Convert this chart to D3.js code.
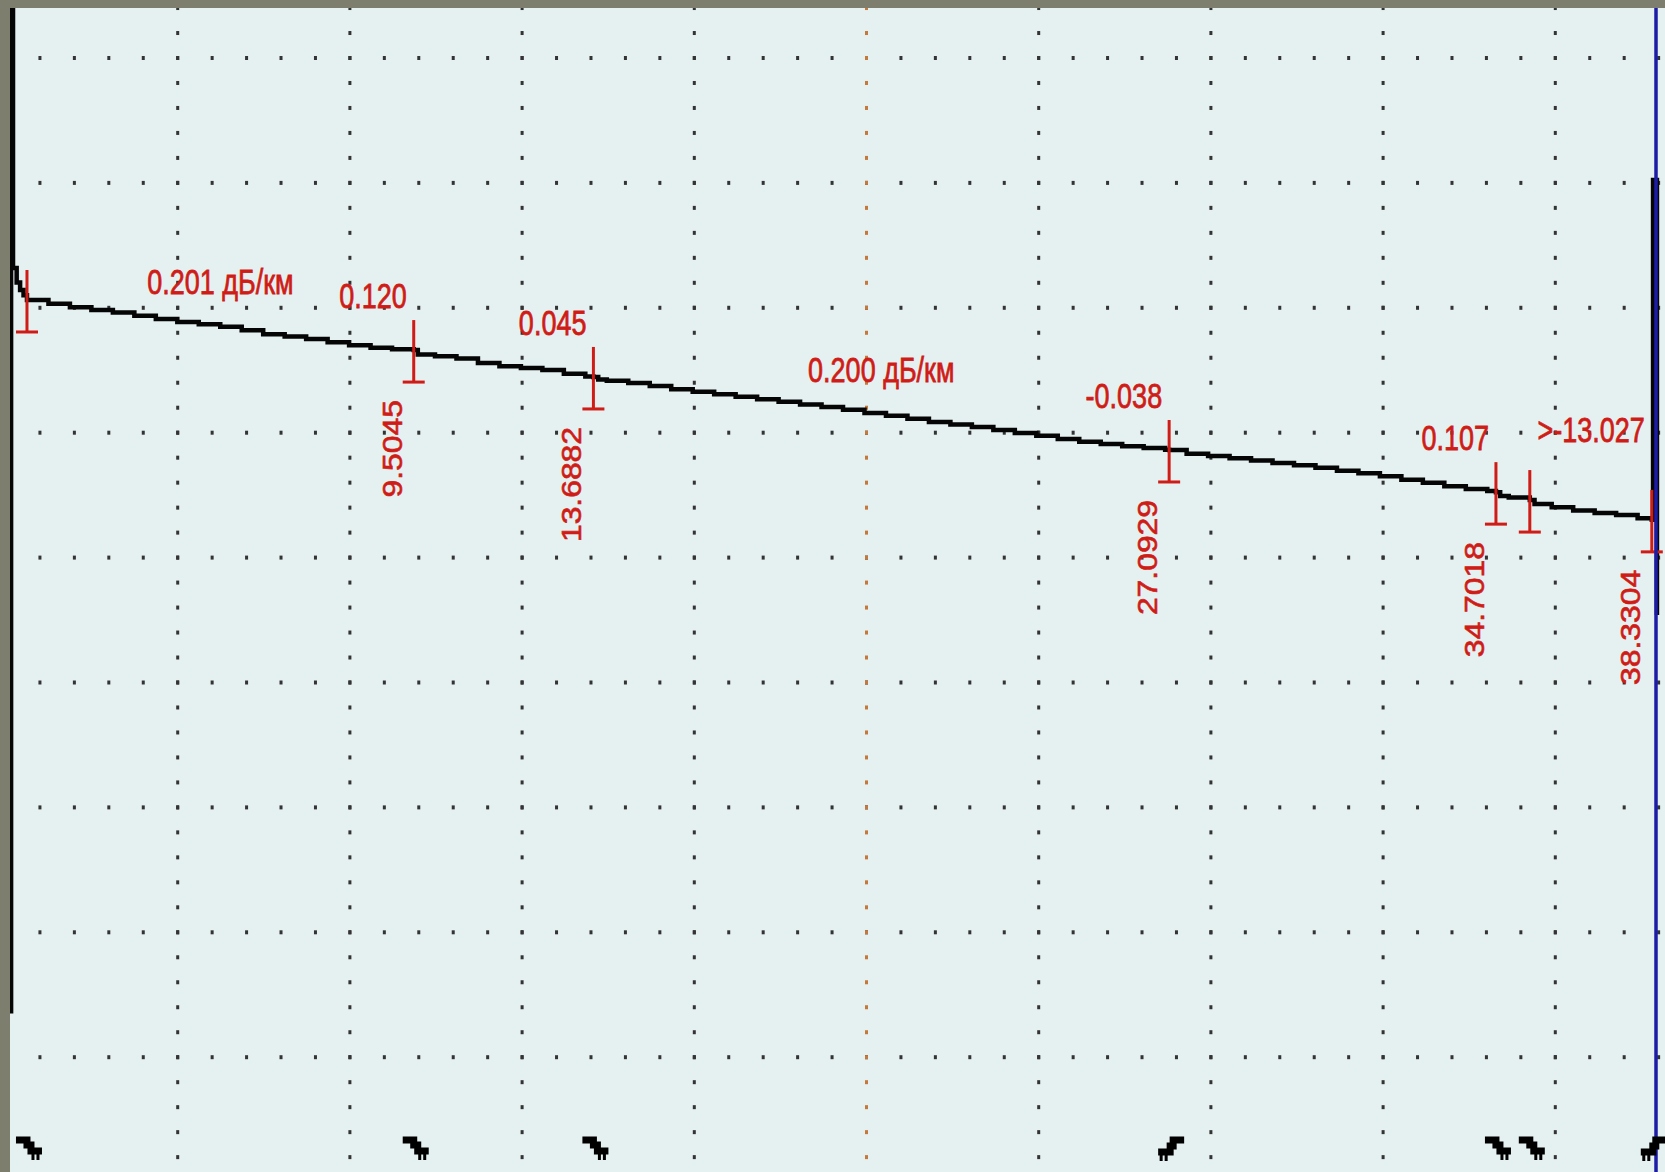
<!DOCTYPE html>
<html>
<head>
<meta charset="utf-8">
<script src="https://cdn.jsdelivr.net/npm/d3@7"></script>
<style>
  html, body { margin: 0; padding: 0; background: #7c7c6c; }
  svg { display: block; }
</style>
</head>
<body>
<svg id="chart" width="1665" height="1172"></svg>
<script>
// OTDR trace: distance (km) vs level (dB)
const traceKm = [0.10, 0.13, 0.175, 0.26, 0.34, 0.42, 0.5, 1, 1.5, 2, 2.5, 3, 3.5, 4, 4.5, 5, 5.5, 6, 6.5, 7, 7.5, 8, 8.5, 9,
  9.5045, 9.6, 10, 10.5, 11, 11.5, 12, 12.5, 13, 13.5, 13.6882, 13.8, 14, 14.5, 15, 15.5, 16, 16.5, 17, 17.5, 18, 18.5,
  19, 19.5, 20, 20.5, 21, 21.5, 22, 22.5, 23, 23.5, 24, 24.5, 25, 25.5, 26, 26.5, 27, 27.0929, 27.5, 28, 28.5, 29, 29.5,
  30, 30.5, 31, 31.5, 32, 32.5, 33, 33.5, 34, 34.5, 34.7018, 34.8, 35, 35.49, 35.6, 36, 36.5, 37, 37.5, 38, 38.3304,
  38.36, 38.45];
const traceDb = [-27.2, 8.6, -0.94, -1.45, -1.72, -1.90, -2.07, -2.20, -2.33, -2.42, -2.51, -2.63, -2.74, -2.85, -2.93,
  -3.02, -3.14, -3.28, -3.36, -3.45, -3.56, -3.67, -3.76, -3.81, -3.84, -4.00, -4.06, -4.14, -4.30, -4.41, -4.47, -4.54,
  -4.68, -4.77, -4.79, -4.88, -4.92, -5.00, -5.11, -5.22, -5.31, -5.40, -5.49, -5.58, -5.67, -5.76, -5.85, -5.95, -6.06,
  -6.16, -6.27, -6.38, -6.47, -6.56, -6.66, -6.77, -6.87, -6.98, -7.08, -7.16, -7.24, -7.30, -7.36, -7.37, -7.50, -7.58,
  -7.66, -7.74, -7.83, -7.91, -8.00, -8.10, -8.19, -8.30, -8.42, -8.53, -8.65, -8.75, -8.82, -8.86, -9.00, -9.05, -9.14,
  -9.28, -9.39, -9.51, -9.60, -9.67, -9.78, -9.84, 2.17, -13.2];

// event markers
const markerKm = [0.50, 9.5045, 13.6882, 27.0929, 34.7018, 35.49, 38.3304];
const markerDb = [-2.07, -3.84, -4.79, -7.37, -8.86, -9.14, -9.84];
const markerType = ["loss", "loss", "loss", "gain", "loss", "loss", "end"];

// distance labels (rotated): marker index and text
const distIndex = [1, 2, 3, 4, 6];
const distText = ["9.5045", "13.6882", "27.0929", "34.7018", "38.3304"];

// event loss / reflectance labels
const lossIndex = [1, 2, 3, 4, 6];
const lossText = ["0.120", "0.045", "-0.038", "0.107", ">-13.027"];
const lossRaise = [0, 0, 0, 0, 36];

// section attenuation labels
const sectionFrom = [0.50, 13.6882];
const sectionTo = [9.5045, 27.0929];
const sectionText = ["0.201 дБ/км", "0.200 дБ/км"];
const sectionLevel = [-3.02, -6.13];

// screen grid: divisions
const gridCols = 10, gridRows = 8, minorPerDiv = 5;

const W = 1665, H = 1172;
const plot = { left: 10, top: 8, right: W, bottom: H };

const svg = d3.select("#chart");

const x = d3.scaleLinear().domain([0, 38.3304]).range([5.5, 1651.8]);
const y = d3.scaleLinear().domain([-2, -10]).range([298, 524.4]);
const gx = d3.scaleLinear().domain([0, gridCols]).range([5.5, 5.5 + 172.2 * gridCols]);
const gy = d3.scaleLinear().domain([0, gridRows]).range([58, 58 + 124.9 * gridRows]);

// frame
svg.append("rect").attr("x", 0).attr("y", 0).attr("width", W).attr("height", H).attr("fill", "#7e7e6e");
svg.append("rect").attr("x", plot.left).attr("y", plot.top)
  .attr("width", plot.right - plot.left).attr("height", plot.bottom - plot.top).attr("fill", "#e5f0f1");

svg.append("defs").append("clipPath").attr("id", "clip")
  .append("rect").attr("x", plot.left).attr("y", plot.top)
  .attr("width", plot.right - plot.left).attr("height", plot.bottom - plot.top);

const g = svg.append("g").attr("clip-path", "url(#clip)");

// dotted grid
const gridG = g.append("g");
const rowIdx = d3.range(0, gridRows + 1);
const colMinor = d3.range(1, gridCols * minorPerDiv + 1).map(i => i / minorPerDiv);
rowIdx.forEach(r => {
  gridG.selectAll(null).data(colMinor).enter().append("rect")
    .attr("x", d => gx(d) - 1.5).attr("y", gy(r) - 2)
    .attr("width", 3).attr("height", 4).attr("fill", "#333");
});
const colIdx = d3.range(1, gridCols);
const rowMinor = d3.range(-2, gridRows * minorPerDiv + 6).map(i => i / minorPerDiv);
colIdx.forEach(c => {
  gridG.selectAll(null).data(rowMinor).enter().append("rect")
    .attr("x", gx(c) - 1.5).attr("y", d => gy(d) - 2)
    .attr("width", 3).attr("height", 4)
    .attr("fill", c === 5 ? "#c4783c" : "#333");
});

// trace
const traceData = traceKm.map((k, i) => [k, traceDb[i]]);
const line = d3.line().x(d => x(d[0])).y(d => y(d[1])).curve(d3.curveStepAfter);
g.append("path").datum(traceData).attr("d", line)
  .attr("fill", "none").attr("stroke", "#050505").attr("stroke-width", 4.5)
  .attr("stroke-linejoin", "miter");

// markers
const red = "#cf1c16";
const mk = g.append("g");
markerKm.forEach((k, i) => {
  const mx = x(k), my = y(markerDb[i]);
  mk.append("line").attr("x1", mx).attr("x2", mx).attr("y1", my - 30).attr("y2", my + 32)
    .attr("stroke", red).attr("stroke-width", 3);
  mk.append("line").attr("x1", mx - 11).attr("x2", mx + 11).attr("y1", my + 32).attr("y2", my + 32)
    .attr("stroke", red).attr("stroke-width", 3);
});

const font = "'Liberation Sans', Arial, sans-serif";
const fs = 27;
const stretchRot = 1.18;   // vertical stretch of the rotated labels
const stretchHor = 1.3;    // vertical stretch of the horizontal labels

function label(sel) {
  return sel.attr("font-family", font).attr("font-size", fs).attr("fill", red)
    .attr("stroke", red).attr("stroke-width", 0.6);
}

// rotated distance labels
distIndex.forEach((mi, j) => {
  const mx = x(markerKm[mi]), my = y(markerDb[mi]);
  label(g.append("text"))
    .attr("transform", `translate(${mx - 12},${my + 50}) scale(1,${stretchRot}) rotate(-90)`)
    .attr("text-anchor", "end")
    .text(distText[j]);
});

// loss labels
lossIndex.forEach((mi, j) => {
  const mx = x(markerKm[mi]), my = y(markerDb[mi]);
  label(g.append("text"))
    .attr("transform", `translate(${mx - 7},${my - 42 - lossRaise[j]}) scale(1,${stretchHor})`)
    .attr("text-anchor", "end")
    .text(lossText[j]);
});

// section labels
sectionText.forEach((t, j) => {
  const cx = x((sectionFrom[j] + sectionTo[j]) / 2);
  label(g.append("text"))
    .attr("transform", `translate(${cx},${y(sectionLevel[j]) - 33}) scale(1,${stretchHor})`)
    .attr("text-anchor", "middle")
    .text(t);
});

// right-hand cursor line
g.append("line").attr("x1", 1656).attr("x2", 1656).attr("y1", plot.top).attr("y2", H)
  .attr("stroke", "#1c1ca6").attr("stroke-width", 3.5);

// event glyphs along the bottom
const glyphs = {
  loss: "M0,0 L11,0 L11,5 L15,5 L15,11 L26,11",
  gain: "M0,12 L12,12 L12,6 L15,6 L15,0 L26,0",
  end: "M0,12 L12,12 L12,6 L15,6 L15,0 L26,0"
};
markerKm.forEach((k, i) => {
  const mx = x(k) + 2;
  g.append("path")
    .attr("transform", `translate(${mx - 13},${1140})`)
    .attr("d", glyphs[markerType[i]])
    .attr("fill", "none").attr("stroke", "#000").attr("stroke-width", 7)
    .attr("stroke-linejoin", "miter");
  g.append("path")
    .attr("transform", `translate(${mx - 13},${1140})`)
    .attr("d", markerType[i] === "loss" ? "M17,14 L17,20 M22,14 L22,20" : "M3,15 L3,21 M8,15 L8,21")
    .attr("stroke", "#000").attr("stroke-width", 3);
});
</script>
</body>
</html>
